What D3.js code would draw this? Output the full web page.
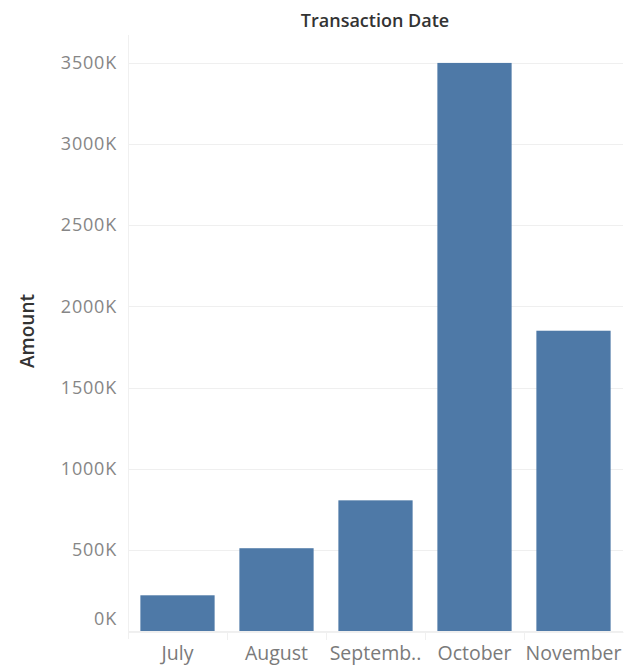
<!doctype html>
<html>
  <head>
    <script src="https://d3js.org/d3.v7.min.js"></script>
    <style>
      body { margin: 0; background: #fff; }
      text { font-family: "Open Sans", "Noto Sans", sans-serif; }
    </style>
  </head>
  <body>
    <script>
      // data (amounts in dollars)
      const months  = ["July", "August", "Septemb..", "October", "November"];
      const amounts = [220000, 510000, 805000, 3500000, 1850000];
      const yTicks  = [0, 500000, 1000000, 1500000, 2000000, 2500000, 3000000, 3500000];

      const width = 634, height = 669;
      const plotLeft = 128, plotRight = 623, plotTop = 35, plotBottom = 631;

      const svg = d3.select("body").append("svg")
        .attr("width", width)
        .attr("height", height);

      const x = d3.scaleBand()
        .domain(months)
        .range([plotLeft, plotRight])
        .paddingInner(0.25)
        .paddingOuter(0.125);

      const y = d3.scaleLinear()
        .domain([0, 3672000])
        .range([plotBottom, plotTop]);

      // gridlines
      svg.append("g")
        .selectAll("line")
        .data(yTicks)
        .join("line")
          .attr("x1", plotLeft)
          .attr("x2", plotRight)
          .attr("y1", d => Math.round(y(d)) + 0.5)
          .attr("y2", d => Math.round(y(d)) + 0.5)
          .attr("stroke", "#efefef")
          .attr("stroke-width", 1);

      // y axis line (faint)
      svg.append("line")
        .attr("x1", plotLeft + 0.5).attr("x2", plotLeft + 0.5)
        .attr("y1", plotTop).attr("y2", plotBottom + 8)
        .attr("stroke", "#f0f0f0");

      // bars
      svg.append("g")
        .selectAll("rect")
        .data(amounts)
        .join("rect")
          .attr("x", (d, i) => x(months[i]))
          .attr("width", x.bandwidth())
          .attr("y", d => y(d))
          .attr("height", d => y(0) - y(d))
          .attr("fill", "#4e79a7");

      // y axis labels
      const yAxis = svg.append("g")
        .attr("transform", `translate(${plotLeft},0)`)
        .call(d3.axisLeft(y).tickValues(yTicks).tickSize(0).tickPadding(11)
          .tickFormat(d => d3.format("d")(d / 1000) + "K"));
      yAxis.select(".domain").remove();
      yAxis.selectAll("text")
        .attr("fill", "#868686")
        .style("font-size", "18px")
        .style("letter-spacing", "0.8px");
      // the zero label sits a little above the baseline, as in the original
      yAxis.selectAll(".tick").filter(d => d === 0).select("text").attr("dy", "-0.35em");

      // x axis
      const xAxis = svg.append("g")
        .attr("transform", `translate(0,${plotBottom + 1})`)
        .call(d3.axisBottom(x).tickSize(0).tickPadding(14));
      xAxis.select(".domain").attr("stroke", "#f0f0f0");
      xAxis.selectAll("text")
        .attr("fill", "#7a7a7a")
        .style("font-size", "19.5px");

      // separators between categories
      svg.append("g")
        .selectAll("line")
        .data(months.slice(1))
        .join("line")
          .attr("x1", d => Math.round(x(d) - x.step() * x.paddingInner() / 2) + 0.5)
          .attr("x2", d => Math.round(x(d) - x.step() * x.paddingInner() / 2) + 0.5)
          .attr("y1", plotBottom + 1)
          .attr("y2", plotBottom + 9)
          .attr("stroke", "#f0f0f0");

      // titles
      svg.append("text")
        .attr("x", 375)
        .attr("y", 27)
        .attr("text-anchor", "middle")
        .attr("fill", "#333")
        .style("font-size", "18px")
        .style("font-weight", 600)
        .text("Transaction Date");

      svg.append("text")
        .attr("transform", `translate(34,331) rotate(-90)`)
        .attr("text-anchor", "middle")
        .attr("fill", "#333")
        .style("font-size", "19px")
        .style("font-weight", 600)
        .text("Amount");
    </script>
  </body>
</html>
